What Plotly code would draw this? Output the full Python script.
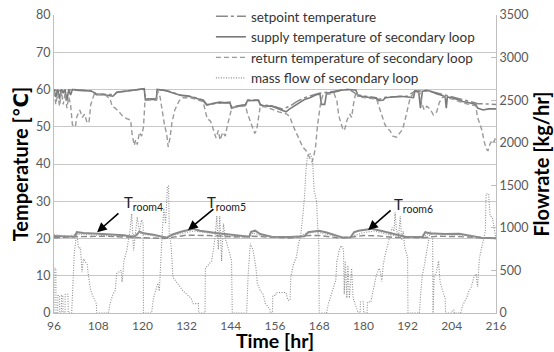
import plotly.graph_objects as go

# ---------------- data ----------------
x_ticks = [96, 108, 120, 132, 144, 156, 168, 180, 192, 204, 216]

supply_t = [96, 96.5, 97, 97.5, 98, 98.5, 99, 99.5, 100, 100.5, 101, 102, 104, 106, 106.7, 107.5, 109, 111, 112, 113,
            115, 117.5, 118.5, 120.5, 120.8, 122, 123.8, 124, 126, 127.5, 129, 130.5, 132, 133.5, 135, 136.5, 137.5,
            139, 141, 142.5, 143.8, 144.2, 145, 146.5, 148, 148.5, 151.5, 152, 153.7, 155, 156.5, 157.5, 159, 160,
            161.5, 162.8, 164, 165.5, 167, 168.2, 168.6, 169.5, 170, 172, 174, 176, 178, 178.5, 181, 183.5, 184,
            185.4, 186, 188, 190, 192, 193.6, 194, 195, 195.5, 196, 197, 198, 200, 201.5, 202.2, 202.5, 202.8, 204,
            206, 207, 209, 210.5, 211, 212.5, 214, 216]
supply_T = [60, 58, 60, 57.5, 60, 59, 60, 57, 60, 58.5, 60, 59.8, 59.7, 59.6, 59.3, 58.6, 58.7, 58.5, 58.2, 59.2,
            59.5, 59.7, 60, 60.2, 57.2, 57.4, 57.3, 60, 59.8, 59.4, 58.8, 58.4, 58.3, 58.0, 57.5, 57, 55.8,
            56.2, 56.6, 56.4, 56.4, 55.0, 55.3, 55.6, 55.8, 57, 57.1, 55.8, 55.5, 55.6, 55.0, 54.5, 54.0, 54.8,
            55.8, 56.7, 57.3, 57.8, 58.5, 58.8, 56, 56, 59, 59.3, 59.8, 60.0, 59.8, 58.3, 58.0, 57.6, 57.0,
            57.2, 57.8, 58.0, 58.2, 58.0, 57.8, 59.6, 59.5, 55, 59.5, 59.8, 59.6, 58.8, 58.4, 58, 55, 58, 57.8,
            57.2, 56.8, 56.4, 56.0, 55.0, 54.5, 54.8, 54.8]

setpoint_t = [96, 97, 98, 99, 100, 101, 104, 106.5, 107.5, 111, 112.5, 113, 117, 120.5, 120.8, 123.8, 124, 127, 130,
              133, 136.5, 137.5, 143.8, 144.2, 148, 148.5, 151.5, 152, 156, 158, 160, 162, 164, 166, 168, 172, 176,
              178.5, 183.5, 184, 186, 192, 194, 198, 202, 206, 210.5, 211, 216]
setpoint_T = [60, 59.5, 59.8, 59.5, 59.8, 60, 59.8, 59.6, 58.8, 58.6, 58.6, 59.3, 59.8, 60.2, 57.5, 57.5, 60, 59.6, 58.6,
              58.2, 57.2, 56, 56.6, 55.3, 56, 57.2, 57.2, 56, 55.4, 54.8, 55.5, 56.8, 57.8, 58.4, 59, 59.5, 60.1,
              58.5, 57.8, 57.3, 57.9, 58.2, 59.6, 59.6, 58.5, 57.5, 56.4, 56.2, 56]

return_t = [96, 96.5, 97, 97.5, 98, 98.5, 99, 99.5, 100, 100.5, 101, 101.8, 102.2, 103, 103.7, 104.3, 105, 105.5, 106,
            107, 108, 110, 111.2, 111.8, 112.6, 113.5, 114.5, 115.7, 116.8, 117.2, 117.8, 118.2, 118.6, 119.2, 119.8,
            120.3, 120.7, 122, 123.8, 124.2, 124.8, 125.4, 126, 126.6, 127, 127.5, 128, 128.8, 130, 131, 133, 135,
            136.5, 137, 137.6, 138.5, 139.3, 140, 140.6, 141.1, 141.8, 142.5, 143, 143.5, 144.2, 145, 148, 148.5,
            149.2, 150, 150.5, 151, 151.5, 152, 153.7, 155.5, 157, 159.2, 160, 160.8, 161.5, 162.2, 162.8, 163.5,
            164.5, 165.5, 166, 166.5, 167, 167.5, 167.9, 168.4, 169, 172, 172.8, 173.3, 174, 174.5, 175, 175.5,
            176.3, 176.8, 177.3, 178, 178.6, 181, 183.6, 184.2, 185, 185.8, 186.5, 187.2, 188, 189, 190, 190.6,
            191.3, 192, 192.7, 194, 195.4, 195.8, 196.5, 197.2, 198.1, 199, 199.9, 200.6, 201.5, 204, 207, 210.5,
            211, 211.7, 212.2, 212.8, 213.3, 213.8, 214.4, 215, 215.5, 216]
return_T = [59.5, 56, 59, 55.5, 59.5, 56, 59, 55, 58, 56, 50.5, 50, 52.7, 54.5, 52.5, 53.4, 51, 51.2, 56,
            59, 58.7, 58.5, 57.5, 55.5, 55, 54.2, 53, 52.2, 51.8, 48, 45, 46.5, 45.2, 48.5, 47.5,
            50, 57, 57.2, 57.1, 59.5, 58, 53.6, 50.5, 48, 44.6, 47, 51, 54.5, 57, 57.8, 57.8, 57.2,
            56.7, 54.5, 52.2, 51.5, 49, 47, 49, 46.4, 48.5, 47.5, 50, 51.8, 54.8, 55.2, 55.6, 53.6,
            51.8, 49.5, 48.2, 49, 52.7, 55.5, 55.3, 54.5, 54, 53.4, 52.7, 50.5, 49, 47.5, 46, 44.6,
            43.5, 41.5, 40.5, 42, 44.5, 50, 53.4, 56.5, 58.5, 59, 57, 53, 50.7, 49, 49.5, 51.6,
            53.4, 52.5, 56, 59.5, 58, 57.8, 57.4, 55.5, 53, 50.7, 49.5, 49, 47.5, 47.2, 48.5, 49.2,
            51.8, 55, 57.8, 59.4, 59, 56.5, 54.5, 55.5, 54.8, 53.2, 54, 56.5, 58, 57.5, 56.4, 55.6,
            52.5, 50.5, 49, 46, 44.2, 43.5, 45.4, 46.5, 46, 47.5]

flow_t = [96.0, 96.05, 96.5, 96.55, 97.0, 97.05, 97.5, 97.55, 98.0, 98.05, 98.4, 98.45, 99.0, 99.05, 99.8, 99.85,
          100.8, 101.5, 102.2, 102.6, 103.2, 103.6, 104.0, 105.0, 105.4, 106.0, 106.8, 107.5, 107.6, 110.8, 111.2,
          112.0, 112.6, 113.0, 114.2, 114.5, 115.0, 115.8, 116.6, 117.1, 117.6, 118.2, 118.6, 119.2, 119.8, 120.2,
          120.3, 122.5, 123.0, 124.2, 124.6, 125.3, 125.8, 126.3, 126.8, 127.1, 127.3, 127.8, 128.3, 129.5, 131.0,
          132.0, 133.2, 133.8, 135.2, 135.3, 137.0, 137.1, 138.0, 138.8, 139.3, 139.8, 140.2, 140.6, 141.0, 141.5,
          142.0, 142.5, 143.0, 144.2, 144.4, 148.3, 148.7, 149.3, 150.0, 150.8, 151.2, 152.0, 152.8, 153.4, 154.6,
          154.7, 155.3, 155.4, 156.2, 156.3, 159.0, 159.5, 160.1, 160.3, 161.0, 161.8, 162.4, 163.0, 163.5, 164.0,
          164.4, 164.8, 165.5, 166.2, 166.6, 167.3, 167.6, 167.9, 168.0, 170.0, 170.5, 171.5, 172.0, 172.5, 172.8,
          173.5, 174.0, 174.6, 174.8, 175.1, 175.5, 175.8, 176.2, 176.8, 177.2, 177.6, 178.2, 178.6, 179.1, 179.2,
          180.0, 180.1, 181.0, 181.1, 182.0, 182.7, 183.5, 184.3, 184.6, 185.0, 185.4, 186.0, 186.5, 187.2, 187.8,
          188.3, 188.6, 189.0, 189.6, 190.0, 190.4, 190.8, 191.2, 191.7, 192.0, 192.1, 195.2, 195.6, 196.0, 196.6,
          197.2, 197.6, 198.1, 198.8, 198.9, 199.2, 199.8, 200.4, 200.8, 201.5, 202.2, 202.3, 204.0, 204.2, 204.6,
          204.7, 206.4, 207.0, 208.0, 208.6, 209.2, 210.0, 210.6, 211.0, 211.5, 212.0, 212.6, 213.1, 213.3, 214.0,
          214.4, 215.0, 216.0]
flow_kg = [0, 525, 525, 0, 0, 205, 205, 0, 0, 205, 205, 0, 0, 220, 220, 0,
           0, 700, 960, 765, 765, 480, 635, 570, 420, 260, 175, 110, 0, 0, 110,
           220, 260, 460, 500, 365, 610, 745, 960, 1165, 735, 1005, 1125, 960, 1095, 1050,
           0, 0, 175, 350, 260, 875, 1225, 1050, 1490, 1490, 920, 790, 420, 350, 260,
           220, 175, 110, 110, 0, 0, 525, 570, 610, 745, 920, 1140, 745, 1140, 610,
           1050, 875, 810, 610, 0, 0, 440, 815, 745, 540, 350, 260, 220, 110, 45,
           0, 0, 205, 205, 240, 240, 150, 150, 420, 570, 655, 815, 920, 1125, 1355,
           1665, 1840, 1880, 1795, 1445, 1310, 1005, 815, 0, 0, 110, 260, 305, 385, 610,
           745, 790, 745, 220, 610, 175, 560, 175, 525, 175, 130, 45, 0, 0, 130,
           130, 0, 0, 130, 130, 295, 440, 525, 480, 370, 570, 700, 790, 920, 1005,
           960, 1180, 960, 920, 1140, 855, 960, 775, 700, 655, 0, 0, 260, 440, 570,
           720, 830, 960, 875, 0, 420, 480, 610, 370, 260, 175, 0, 0, 35, 35,
           0, 0, 95, 175, 255, 295, 420, 460, 305, 645, 745, 875, 960, 1400, 1400,
           1140, 1125, 875]

room4_t = [96, 100, 101.5, 102.2, 104, 108, 112, 115, 117.5, 118.5, 119.2, 120.3, 123, 126, 126.6, 128, 130.5, 133.8,
           135.6, 140, 145, 149, 149.5, 150.6, 152, 155, 160, 164, 165, 167.9, 170, 173.3, 174.5, 176.5, 177.5,
           178.7, 182.3, 185, 188, 191.4, 196, 196.8, 198, 202, 206, 207.5, 210, 212, 216]
room4_T = [20.7, 20.5, 20.5, 21.7, 21.5, 21.3, 21.1, 20.9, 20.4, 21.0, 21.9, 21.4, 21.0, 20.5, 20.2, 21.0, 21.8, 22.6,
           22.1, 21.5, 20.9, 20.5, 21.8, 22.1, 21.2, 20.5, 20.4, 20.6, 21.7, 22.1, 21.6, 20.7, 20.2, 20.3, 21.7,
           22.1, 22.6, 22.0, 21.2, 20.5, 20.4, 21.7, 21.4, 21.2, 21.3, 21.0, 20.6, 20.2, 20.1]

room5_t = [96, 100, 102, 106, 110, 116, 119, 121, 126, 128, 131, 134, 138, 144, 149, 150, 152, 158, 162, 164, 167,
           170, 174, 177, 180, 183, 186, 191, 196, 197.5, 202, 207, 212, 216]
room5_T = [21.0, 20.6, 21.2, 21.0, 20.8, 20.5, 21.5, 21.0, 20.4, 20.8, 21.3, 22.0, 21.5, 20.6, 20.2, 21.5, 20.8, 20.3,
           20.2, 21.2, 21.8, 21.2, 20.3, 20.6, 21.6, 22.0, 21.2, 20.3, 20.3, 21.2, 21.1, 20.9, 20.3, 20.0]

room6_t = [96, 102, 110, 118, 126, 132, 138, 145, 150, 160, 165, 168, 173, 177, 180, 184, 188, 196, 200, 206, 212, 216]
room6_T = [20.2, 20.5, 20.6, 20.3, 20.0, 20.9, 20.8, 20.4, 20.6, 20.1, 20.8, 20.8, 20.2, 20.4, 20.8, 20.7, 20.3, 20.2,
           20.6, 20.5, 20.1, 20.0]

# annotation anchors (data coords): label, tip(t,T), tail(t,T), label pos(t,T)
labels = ["T<sub>room4</sub>", "T<sub>room5</sub>", "T<sub>room6</sub>"]
tips = [(107.7, 21.7), (132.4, 22.3), (181.3, 22.3)]
tails = [(113.9, 27.1), (139.7, 28.2), (187.8, 27.9)]
label_pos = [(120.3, 29.4), (142.8, 29.4), (193.6, 29.0)]

FONT = "Lato, 'Open Sans', 'DejaVu Sans', sans-serif"

# ---------------- figure ----------------
fig = go.Figure()

fig.add_trace(go.Scatter(x=setpoint_t, y=setpoint_T, name="setpoint temperature", mode="lines",
                         line=dict(color="#8a8a8a", width=1.5, dash="12px,3px,3px,3px")))
fig.add_trace(go.Scatter(x=supply_t, y=supply_T, name="supply temperature of secondary loop", mode="lines",
                         line=dict(color="#7a7a7a", width=1.6)))
fig.add_trace(go.Scatter(x=return_t, y=return_T, name="return temperature of secondary loop", mode="lines",
                         line=dict(color="#9a9a9a", width=1.4, dash="5px,3px")))
fig.add_trace(go.Scatter(x=flow_t, y=flow_kg, name="mass flow of secondary loop", mode="lines", yaxis="y2",
                         line=dict(color="#8c8c8c", width=1.1, dash="1px,1.5px")))

fig.add_trace(go.Scatter(x=room4_t, y=room4_T, mode="lines", showlegend=False,
                         line=dict(color="#8a8a8a", width=2)))
fig.add_trace(go.Scatter(x=room5_t, y=room5_T, mode="lines", showlegend=False,
                         line=dict(color="#9a9a9a", width=1.2, dash="1px,1.5px")))
fig.add_trace(go.Scatter(x=room6_t, y=room6_T, mode="lines", showlegend=False,
                         line=dict(color="#8a8a8a", width=1.4, dash="6px,3px")))

annotations = []
for lab, tip, tail, lp in zip(labels, tips, tails, label_pos):
    annotations.append(dict(x=tip[0], y=tip[1], ax=tail[0], ay=tail[1], axref="x", ayref="y",
                            xref="x", yref="y", text="", showarrow=True, arrowhead=2, arrowsize=1.2,
                            arrowwidth=1.6, arrowcolor="#000000"))
    annotations.append(dict(x=lp[0], y=lp[1], xref="x", yref="y", text=lab, showarrow=False,
                            font=dict(family=FONT, size=15, color="#222222")))

fig.update_layout(
    width=554, height=352,
    margin=dict(l=54, r=58, t=15, b=39, autoexpand=False),
    paper_bgcolor="white", plot_bgcolor="white",
    font=dict(family=FONT, size=12, color="#595959"),
    showlegend=True,
    legend=dict(x=0.355, y=1.047, xanchor="left", yanchor="top", bgcolor="rgba(0,0,0,0)",
                font=dict(family=FONT, size=13.5, color="#333333"), tracegroupgap=0),
    annotations=annotations,
    xaxis=dict(range=[96, 216], tickvals=x_ticks, showgrid=False, zeroline=False, automargin=False,
               showline=True, linecolor="#bfbfbf", linewidth=1, ticks="", ticklabelstandoff=2,
               tickfont=dict(family=FONT, size=12, color="#595959"),
               title=dict(text="Time [hr]", standoff=0,
                          font=dict(family=FONT, size=19.5, color="#000000", weight="bold"))),
    yaxis=dict(range=[0, 80], dtick=10, showgrid=True, gridcolor="#c8c8c8", gridwidth=1, automargin=False,
               zeroline=False, showline=True, linecolor="#bfbfbf", linewidth=1, ticks="",
               tickfont=dict(family=FONT, size=12.5, color="#595959"),
               title=dict(text="Temperature [℃]", standoff=2,
                          font=dict(family=FONT, size=20, color="#000000", weight="bold"))),
    yaxis2=dict(range=[0, 3500], dtick=500, overlaying="y", side="right", showgrid=False, automargin=False,
                zeroline=False, showline=True, linecolor="#bfbfbf", linewidth=1,
                ticks="inside", ticklen=5, tickcolor="#bfbfbf",
                tickfont=dict(family=FONT, size=12.5, color="#595959"),
                title=dict(text="Flowrate [kg/hr]", standoff=6,
                           font=dict(family=FONT, size=20, color="#000000", weight="bold"))),
)

fig.write_html("out.html")
